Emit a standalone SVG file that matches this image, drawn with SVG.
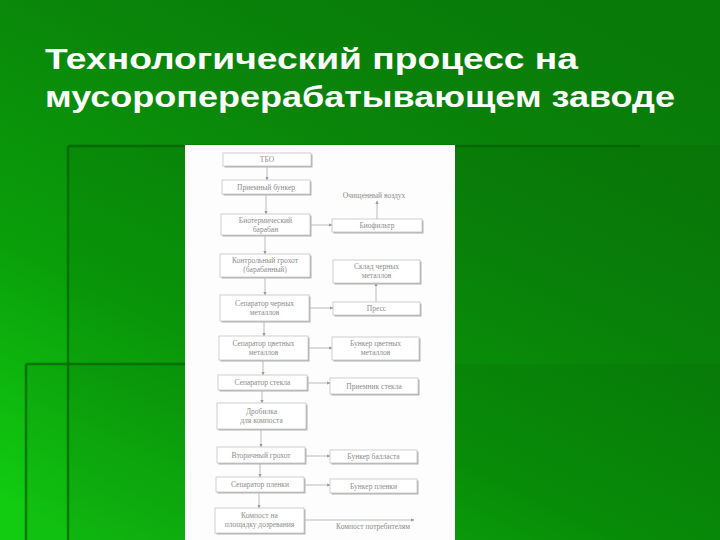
<svg xmlns="http://www.w3.org/2000/svg" width="720" height="540" viewBox="0 0 720 540">
<defs>
<linearGradient id="bg" x1="0.75" y1="0" x2="0.1" y2="1">
<stop offset="0" stop-color="#087a08"/>
<stop offset="0.3" stop-color="#0a850a"/>
<stop offset="0.65" stop-color="#0a9e0a"/>
<stop offset="1" stop-color="#12cc12"/>
</linearGradient>
<marker id="ar" viewBox="0 0 6 6" refX="5.5" refY="3" markerWidth="4" markerHeight="4" orient="auto">
<path d="M0,0 L6,3 L0,6 z" fill="#9a9a9a"/>
</marker>
<style>
.title{font-family:"Liberation Sans",Arial,sans-serif;font-weight:bold;font-size:29px;fill:#ffffff}
.box rect.sh{fill:#b4b4b4}
.box rect.bx{fill:#ffffff;stroke:#c4c4c4;stroke-width:0.8}
.lbl{font-family:"Liberation Serif","Times New Roman",serif;font-size:7.5px;fill:#8c8c8c;text-anchor:middle}
.cn{stroke:#a8a8a8;stroke-width:0.8;fill:none;marker-end:url(#ar)}
</style>
</defs>
<rect x="0" y="0" width="720" height="540" fill="url(#bg)"/>
<rect x="68" y="145" width="652" height="395" fill="#000" opacity="0.06"/>
<rect x="26" y="364" width="694" height="176" fill="#000" opacity="0.05"/>
<g stroke="#056005" stroke-width="2.5" opacity="0.7">
<line x1="68" y1="146" x2="640" y2="146"/>
<line x1="68" y1="146" x2="68" y2="540"/>
<line x1="26" y1="364" x2="185" y2="364"/>
<line x1="26" y1="364" x2="26" y2="540"/>
</g>
<text class="title" x="45" y="69" textLength="533" lengthAdjust="spacingAndGlyphs">Технологический процесс на</text>
<text class="title" x="45" y="107" textLength="630" lengthAdjust="spacingAndGlyphs">мусороперерабатывающем заводе</text>
<rect x="185" y="145" width="270" height="395" fill="#fdfdfd"/>
<g id="connectors">
<path class="cn" d="M267,166 V180"/>
<path class="cn" d="M266,194 V214"/>
<path class="cn" d="M265,235 V254"/>
<path class="cn" d="M265,277 V295"/>
<path class="cn" d="M264,321 V336"/>
<path class="cn" d="M263,360 V375"/>
<path class="cn" d="M262,390 V403"/>
<path class="cn" d="M261,429 V447"/>
<path class="cn" d="M260,463 V477"/>
<path class="cn" d="M259,492 V508"/>
<path class="cn" d="M310,225 H332"/>
<path class="cn" d="M377,219 V201"/>
<path class="cn" d="M309,308 H333"/>
<path class="cn" d="M376,302 V283"/>
<path class="cn" d="M308,348 H332"/>
<path class="cn" d="M307,383 H330"/>
<path class="cn" d="M305,456 H330"/>
<path class="cn" d="M304,485 H330"/>
<path class="cn" d="M304,520 H414"/>
</g>
<g id="n1" class="box"><rect class="sh" x="224.5" y="154.5" width="88" height="13"/><rect class="bx" x="223" y="153" width="88" height="13"/><text class="lbl" x="267" y="162">ТБО</text></g>
<g id="n2" class="box"><rect class="sh" x="223.5" y="181.5" width="88" height="14"/><rect class="bx" x="222" y="180" width="88" height="14"/><text class="lbl" x="266" y="189.5">Приемный бункер</text></g>
<g id="n3" class="box"><rect class="sh" x="222.5" y="215.5" width="89" height="21"/><rect class="bx" x="221" y="214" width="89" height="21"/><text class="lbl" x="265.5" y="223">Биотермический</text><text class="lbl" x="265.5" y="231.5">барабан</text></g>
<g id="n4" class="box"><rect class="sh" x="221.5" y="255.5" width="90" height="23"/><rect class="bx" x="220" y="254" width="90" height="23"/><text class="lbl" x="265" y="263">Контрольный грохот</text><text class="lbl" x="265" y="272">(барабанный)</text></g>
<g id="n5" class="box"><rect class="sh" x="221.5" y="296.5" width="89" height="26"/><rect class="bx" x="220" y="295" width="89" height="26"/><text class="lbl" x="264.5" y="305.5">Сепаратор черных</text><text class="lbl" x="264.5" y="314.5">металлов</text></g>
<g id="n6" class="box"><rect class="sh" x="220.5" y="337.5" width="89" height="24"/><rect class="bx" x="219" y="336" width="89" height="24"/><text class="lbl" x="263.5" y="345.5">Сепаратор цветных</text><text class="lbl" x="263.5" y="354.5">металлов</text></g>
<g id="n7" class="box"><rect class="sh" x="219.5" y="376.5" width="89" height="15"/><rect class="bx" x="218" y="375" width="89" height="15"/><text class="lbl" x="262.5" y="385">Сепаратор стекла</text></g>
<g id="n8" class="box"><rect class="sh" x="218.5" y="404.5" width="89" height="26"/><rect class="bx" x="217" y="403" width="89" height="26"/><text class="lbl" x="261.5" y="413.5">Дробилка</text><text class="lbl" x="261.5" y="422.5">для компоста</text></g>
<g id="n9" class="box"><rect class="sh" x="218.5" y="448.5" width="88" height="16"/><rect class="bx" x="217" y="447" width="88" height="16"/><text class="lbl" x="261" y="457.5">Вторичный грохот</text></g>
<g id="n10" class="box"><rect class="sh" x="217.5" y="478.5" width="88" height="15"/><rect class="bx" x="216" y="477" width="88" height="15"/><text class="lbl" x="260" y="487">Сепаратор пленки</text></g>
<g id="n11" class="box"><rect class="sh" x="216.5" y="509.5" width="89" height="25"/><rect class="bx" x="215" y="508" width="89" height="25"/><text class="lbl" x="259.5" y="518">Компост на</text><text class="lbl" x="259.5" y="527">площадку дозревания</text></g>
<g id="n12"><text class="lbl" x="374" y="198">Очищенный воздух</text></g>
<g id="n13" class="box"><rect class="sh" x="333.5" y="220.5" width="90" height="13"/><rect class="bx" x="332" y="219" width="90" height="13"/><text class="lbl" x="377" y="228">Биофильтр</text></g>
<g id="n14" class="box"><rect class="sh" x="334.5" y="261.5" width="87" height="23"/><rect class="bx" x="333" y="260" width="87" height="23"/><text class="lbl" x="376.5" y="269">Склад черных</text><text class="lbl" x="376.5" y="278">металлов</text></g>
<g id="n15" class="box"><rect class="sh" x="334.5" y="303.5" width="87" height="13"/><rect class="bx" x="333" y="302" width="87" height="13"/><text class="lbl" x="376.5" y="311">Пресс</text></g>
<g id="n16" class="box"><rect class="sh" x="333.5" y="338.5" width="87" height="23"/><rect class="bx" x="332" y="337" width="87" height="23"/><text class="lbl" x="375.5" y="346">Бункер цветных</text><text class="lbl" x="375.5" y="355">металлов</text></g>
<g id="n17" class="box"><rect class="sh" x="331.5" y="379.5" width="88" height="16"/><rect class="bx" x="330" y="378" width="88" height="16"/><text class="lbl" x="374" y="388.5">Приемник стекла</text></g>
<g id="n18" class="box"><rect class="sh" x="331.5" y="451.5" width="87" height="13"/><rect class="bx" x="330" y="450" width="87" height="13"/><text class="lbl" x="373.5" y="459">Бункер балласта</text></g>
<g id="n19" class="box"><rect class="sh" x="331.5" y="480.5" width="87" height="14"/><rect class="bx" x="330" y="479" width="87" height="14"/><text class="lbl" x="373.5" y="488.5">Бункер пленки</text></g>
<g id="n20"><text class="lbl" x="373" y="529">Компост потребителям</text></g>
</svg>
